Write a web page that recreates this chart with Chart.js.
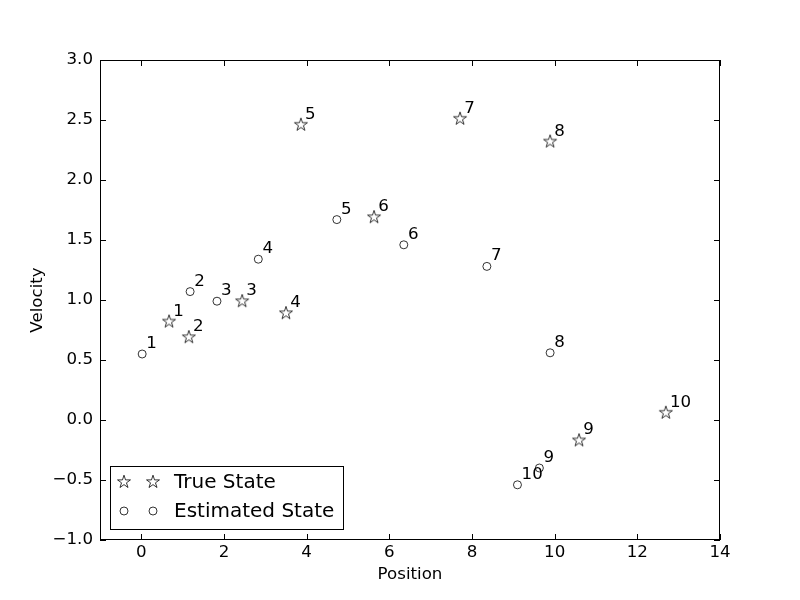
<!DOCTYPE html>
<html>
<head>
<meta charset="utf-8">
<script src="https://cdn.jsdelivr.net/npm/chart.js@4"></script>
<style>
  body { margin: 0; background: #fff; }
  #wrap { width: 800px; height: 600px; }
</style>
</head>
<body>
<div id="wrap"><canvas id="myChart" width="800" height="600"></canvas></div>
<script>
// data
const pointLabels = ['1', '2', '3', '4', '5', '6', '7', '8', '9', '10'];
const truePos = [0.67, 1.15, 2.44, 3.50, 3.86, 5.63, 7.71, 9.89, 10.59, 12.69];
const trueVel = [0.82, 0.69, 0.99, 0.89, 2.46, 1.69, 2.51, 2.32, -0.17, 0.06];
const estPos = [0.02, 1.18, 1.83, 2.83, 4.73, 6.35, 8.36, 9.89, 9.63, 9.10];
const estVel = [0.55, 1.07, 0.99, 1.34, 1.67, 1.46, 1.28, 0.56, -0.40, -0.54];
const xTicks = [0, 2, 4, 6, 8, 10, 12, 14];
const yTicks = [-1, -0.5, 0, 0.5, 1, 1.5, 2, 2.5, 3];

const FONT = 'DejaVu Sans';
const FS = 16.67;

// hollow star like matplotlib '*'
function makeStar(r) {
    const c = document.createElement('canvas');
    const s = Math.ceil(r * 2 + 4);
    c.width = s; c.height = s;
    const g = c.getContext('2d');
    g.beginPath();
    for (let i = 0; i < 10; i++) {
        const rad = i % 2 === 0 ? r : r * 0.382;
        const a = -Math.PI / 2 + i * Math.PI / 5;
        const px = s / 2 + rad * Math.cos(a), py = s / 2 + rad * Math.sin(a);
        if (i === 0) g.moveTo(px, py); else g.lineTo(px, py);
    }
    g.closePath();
    g.fillStyle = '#fff';
    g.fill();
    g.lineWidth = 0.8;
    g.strokeStyle = '#000';
    g.stroke();
    return c;
}
const starImg = makeStar(6.8);

const fmt = v => v.toFixed(1).replace('-', '\u2212');

const frameAndTicks = {
    id: 'frameAndTicks',
    afterDraw(chart) {
        const ctx = chart.ctx;
        const a = chart.chartArea;
        const xs = chart.scales.x, ys = chart.scales.y;
        ctx.save();
        ctx.strokeStyle = '#000';
        ctx.lineWidth = 1;
        ctx.strokeRect(a.left + 0.5, a.top + 0.5, a.right - a.left - 1, a.bottom - a.top - 1);
        const L = 6;
        ctx.beginPath();
        xTicks.forEach(v => {
            const px = Math.round(xs.getPixelForValue(v)) + 0.5;
            ctx.moveTo(px, a.bottom); ctx.lineTo(px, a.bottom - L);
            ctx.moveTo(px, a.top); ctx.lineTo(px, a.top + L);
        });
        yTicks.forEach(v => {
            const py = Math.round(ys.getPixelForValue(v)) + 0.5;
            ctx.moveTo(a.left, py); ctx.lineTo(a.left + L, py);
            ctx.moveTo(a.right, py); ctx.lineTo(a.right - L, py);
        });
        ctx.stroke();

        // point numbers
        ctx.fillStyle = '#000';
        ctx.font = FS + 'px ' + FONT;
        ctx.textAlign = 'left';
        ctx.textBaseline = 'alphabetic';
        chart.data.datasets.forEach(ds => {
            ds.data.forEach((p, i) => {
                const px = xs.getPixelForValue(p.x + 0.1);
                const py = ys.getPixelForValue(p.y + 0.05);
                ctx.fillText(pointLabels[i], px, py);
            });
        });

        // legend with two markers per entry
        const bx = 110, by = 466, bw = 233, bh = 63;
        ctx.fillStyle = '#fff';
        ctx.fillRect(bx, by, bw, bh);
        ctx.strokeStyle = '#000';
        ctx.strokeRect(bx + 0.5, by + 0.5, bw, bh);
        ctx.font = '20px ' + FONT;
        ctx.textBaseline = 'middle';
        chart.data.datasets.forEach((ds, k) => {
            const ry = by + 16 + k * 29;
            [124, 153].forEach(mx => {
                if (ds.pointStyle === 'circle') {
                    ctx.beginPath();
                    ctx.arc(mx, ry, 4, 0, Math.PI * 2);
                    ctx.fillStyle = '#fff';
                    ctx.fill();
                    ctx.lineWidth = 0.8;
                    ctx.strokeStyle = '#000';
                    ctx.stroke();
                } else {
                    ctx.drawImage(starImg, mx - starImg.width / 2, ry - starImg.height / 2);
                }
            });
            ctx.fillStyle = '#000';
            ctx.fillText(ds.label, 174, ry + 1);
        });
        ctx.restore();
    }
};

new Chart(document.getElementById('myChart').getContext('2d'), {
    type: 'scatter',
    data: {
        datasets: [{
            label: 'True State',
            data: truePos.map((x, i) => ({x: x, y: trueVel[i]})),
            pointStyle: starImg,
            pointRadius: 7,
            pointHoverRadius: 7
        }, {
            label: 'Estimated State',
            data: estPos.map((x, i) => ({x: x, y: estVel[i]})),
            pointStyle: 'circle',
            pointRadius: 4,
            pointHoverRadius: 4,
            backgroundColor: '#fff',
            borderColor: '#000',
            borderWidth: 0.8
        }]
    },
    options: {
        responsive: false,
        animation: false,
        layout: {padding: {top: 60, right: 80, left: 0, bottom: 0}},
        plugins: {legend: {display: false}, tooltip: {enabled: false}},
        scales: {
            x: {
                type: 'linear',
                min: -1,
                max: 14,
                afterBuildTicks: axis => { axis.ticks = xTicks.map(v => ({value: v})); },
                afterFit: scale => { scale.height = 60; },
                grid: {display: false, drawTicks: false},
                border: {display: false},
                ticks: {color: '#000', font: {family: FONT, size: FS}, padding: 3, maxRotation: 0},
                title: {display: true, text: 'Position', color: '#000', font: {family: FONT, size: FS}, padding: {top: 0, bottom: 15}}
            },
            y: {
                type: 'linear',
                min: -1,
                max: 3,
                afterBuildTicks: axis => { axis.ticks = yTicks.map(v => ({value: v})); },
                afterFit: scale => { scale.width = 100; },
                grid: {display: false, drawTicks: false},
                border: {display: false},
                ticks: {color: '#000', font: {family: FONT, size: FS}, padding: 7, callback: v => fmt(v)},
                title: {display: true, text: 'Velocity', color: '#000', font: {family: FONT, size: FS}, padding: {top: 28, bottom: 0}}
            }
        }
    },
    plugins: [frameAndTicks]
});
</script>
</body>
</html>
